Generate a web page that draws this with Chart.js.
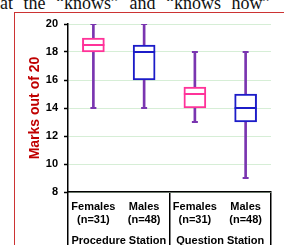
<!DOCTYPE html>
<html>
<head>
<meta charset="utf-8">
<script src="https://cdn.jsdelivr.net/npm/chart.js@4.4.1/dist/chart.umd.min.js"></script>
<style>
  html, body { margin: 0; padding: 0; background: #fff; overflow: hidden; width: 284px; height: 245px; }
  #top-text { position: absolute; left: -14px; top: -6px; font: 18px 'Liberation Serif', 'Times New Roman', serif; line-height: 18px; word-spacing: 6px; white-space: nowrap; color: #111; }
  #frame { position: absolute; left: 14px; top: 12px; width: 300px; height: 300px; border-left: 1px solid #cc3333; border-top: 1px solid #cc3333; }
  #wrap { position: absolute; left: 0; top: 0; width: 284px; height: 260px; }
</style>
</head>
<body>
<div id="top-text">that the “knows” and “knows how”</div>
<div id="frame"></div>
<div id="wrap"><canvas id="c" width="284" height="260"></canvas></div>
<script>
const categories = [['Females', '(n=31)'], ['Males', '(n=48)'], ['Females', '(n=31)'], ['Males', '(n=48)']];
const stations = ['Procedure Station', 'Question Station'];
const minVals = [14, 14, 13, 9];
const q1Vals = [18, 16, 14, 13];
const medianVals = [18.5, 18, 15, 14];
const q3Vals = [19, 18.5, 15.5, 15];
const maxVals = [20, 20, 18, 18];
const yTitle = 'Marks out of 20';
const yMin = 8, yMax = 20, yStep = 2;

const PINK = '#ff3399', BLUE = '#1c1cc8', PURPLE = '#7a35b0';
const boxColors = [PINK, BLUE, PINK, BLUE];

const ctx = document.getElementById('c').getContext('2d');
new Chart(ctx, {
  data: {
    labels: categories,
    datasets: [
      { type: 'line', data: medianVals, showLine: false, pointStyle: 'line', pointRadius: 11,
        pointBorderWidth: 2, pointBorderColor: boxColors, order: 1, xAxisID: 'x', yAxisID: 'y' },
      { type: 'line', data: maxVals, showLine: false, pointStyle: 'line', pointRadius: 3,
        pointBorderWidth: 2, pointBorderColor: PURPLE, order: 2, xAxisID: 'x', yAxisID: 'y' },
      { type: 'line', data: minVals, showLine: false, pointStyle: 'line', pointRadius: 3,
        pointBorderWidth: 2, pointBorderColor: PURPLE, order: 2, xAxisID: 'x', yAxisID: 'y' },
      { type: 'bar', data: q1Vals.map((v, i) => [v, q3Vals[i]]), backgroundColor: '#ffffff',
        borderColor: boxColors, borderWidth: 2, borderSkipped: false, barThickness: 22,
        grouped: false, order: 3, xAxisID: 'x', yAxisID: 'y' },
      { type: 'bar', data: minVals.map((v, i) => [v, maxVals[i]]), backgroundColor: PURPLE,
        borderWidth: 0, barThickness: 2, grouped: false, order: 4, xAxisID: 'x', yAxisID: 'y' }
    ]
  },
  options: {
    responsive: false,
    animation: false,
    events: [],
    layout: { padding: { top: 24, right: 1, left: 0, bottom: 0 } },
    plugins: { legend: { display: false }, tooltip: { enabled: false } },
    scales: {
      x: {
        type: 'category',
        position: 'bottom',
        offset: true,
        weight: 0,
        grid: {
          offset: true,
          drawOnChartArea: false,
          drawTicks: true,
          tickLength: 68,
          lineWidth: 1.5,
          color: c => (c.type !== 'tick' || c.index % 2 === 0) ? '#000' : 'rgba(0,0,0,0)',
          tickColor: c => (c.type !== 'tick' || c.index % 2 === 0) ? '#000' : 'rgba(0,0,0,0)'
        },
        border: { display: true, color: '#000', width: 1.5 },
        ticks: {
          padding: -60,
          color: '#000',
          maxRotation: 0,
          autoSkip: false,
          font: { family: "'Liberation Sans', Arial, sans-serif", size: 11, weight: 'bold', lineHeight: 1.2 }
        },
        afterFit: s => { s.height = 35; }
      },
      x2: {
        type: 'category',
        position: 'bottom',
        labels: stations,
        offset: true,
        weight: 1,
        grid: { display: false, drawTicks: false },
        border: { display: false },
        ticks: {
          padding: 7.5,
          color: '#000',
          maxRotation: 0,
          autoSkip: false,
          font: { family: "'Liberation Sans', Arial, sans-serif", size: 11, weight: 'bold', lineHeight: 1.2 }
        },
        afterFit: s => { s.height = 33; }
      },
      y: {
        type: 'linear',
        min: yMin,
        max: yMax,
        ticks: {
          stepSize: yStep,
          padding: 6,
          color: '#000',
          font: { family: "'Liberation Sans', Arial, sans-serif", size: 11, weight: 'bold' }
        },
        grid: { color: '#d6eed6', lineWidth: 1, tickLength: 4, tickColor: '#000', tickWidth: 1.5 },
        border: { display: true, color: '#000', width: 1.5 },
        title: {
          display: true,
          text: yTitle,
          color: '#c00000',
          padding: { top: 27, bottom: 0 },
          font: { family: "'Liberation Sans', Arial, sans-serif", size: 14, weight: 'bold', lineHeight: 1.2 }
        },
        afterFit: s => { s.width = 68; }
      }
    }
  }
});
</script>
</body>
</html>
